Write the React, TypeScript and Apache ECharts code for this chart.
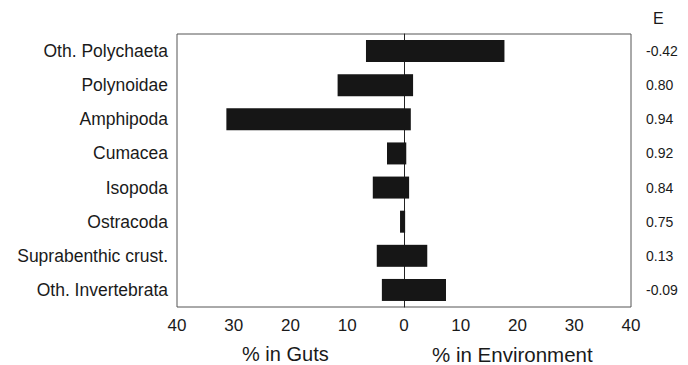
import React, { useEffect, useRef } from "react";
import * as echarts from "echarts";

const categories = [
  "Oth. Polychaeta",
  "Polynoidae",
  "Amphipoda",
  "Cumacea",
  "Isopoda",
  "Ostracoda",
  "Suprabenthic crust.",
  "Oth. Invertebrata",
];
const gutsPct = [6.7, 11.7, 31.3, 3.0, 5.5, 0.7, 4.8, 3.9];
const envPct = [17.7, 1.6, 1.2, 0.4, 0.9, 0.2, 4.1, 7.4];
const eValues = ["-0.42", "0.80", "0.94", "0.92", "0.84", "0.75", "0.13", "-0.09"];
const xTicks = { min: -40, max: 40, interval: 10 };

const FONT = "'Liberation Sans', Arial, sans-serif";

export default function App() {
  const ref = useRef<HTMLDivElement>(null);
  useEffect(() => {
    if (!ref.current) return;
    const chart = echarts.init(ref.current, null, { renderer: "svg" });
    chart.setOption({
      animation: false,
      backgroundColor: "#ffffff",
      textStyle: { fontFamily: FONT },
      grid: {
        left: 177,
        right: 57,
        top: 34,
        bottom: 58,
        show: true,
        borderColor: "#555",
        borderWidth: 1,
        containLabel: false,
      },
      xAxis: {
        type: "value",
        min: xTicks.min,
        max: xTicks.max,
        interval: xTicks.interval,
        axisLine: { show: false },
        axisTick: { show: false },
        splitLine: { show: false },
        axisLabel: {
          color: "#1a1a1a",
          fontSize: 17,
          fontFamily: FONT,
          margin: 10,
          formatter: (v: number) => String(Math.abs(v)),
        },
      },
      yAxis: [
        {
          type: "category",
          data: categories,
          inverse: true,
          axisLine: { show: true, onZero: true, lineStyle: { color: "#222", width: 1 } },
          axisTick: { show: false },
          axisLabel: {
            color: "#1a1a1a",
            fontSize: 17.5,
            fontFamily: FONT,
            margin: 9,
          },
          position: "left",
        },
        {
          type: "category",
          data: eValues,
          inverse: true,
          position: "right",
          axisLine: { show: false, onZero: false },
          axisTick: { show: false },
          axisLabel: {
            color: "#1a1a1a",
            fontSize: 14,
            fontFamily: FONT,
            margin: 15,
          },
          name: "E",
          nameLocation: "start",
          nameGap: 8,
          nameTextStyle: { color: "#1a1a1a", fontSize: 16, fontFamily: FONT, align: "left", padding: [0, 0, 0, 22] },
        },
      ],
      graphic: [
        {
          type: "text",
          left: 242,
          top: 344,
          style: { text: "% in Guts", font: `20px ${FONT}`, fill: "#1a1a1a" },
        },
        {
          type: "text",
          left: 432,
          top: 344,
          style: { text: "% in Environment", font: `20.5px ${FONT}`, fill: "#1a1a1a" },
        },
      ],
      series: [
        {
          name: "Guts",
          type: "bar",
          yAxisIndex: 0,
          data: gutsPct.map((v) => -v),
          barWidth: 22,
          barGap: "-100%",
          itemStyle: { color: "#161616" },
        },
        {
          name: "Environment",
          type: "bar",
          yAxisIndex: 0,
          data: envPct,
          barWidth: 22,
          barGap: "-100%",
          itemStyle: { color: "#161616" },
        },
      ],
    });
    return () => chart.dispose();
  }, []);
  return <div ref={ref} style={{ width: 688, height: 365, position: "absolute", left: 0, top: 0 }} />;
}
